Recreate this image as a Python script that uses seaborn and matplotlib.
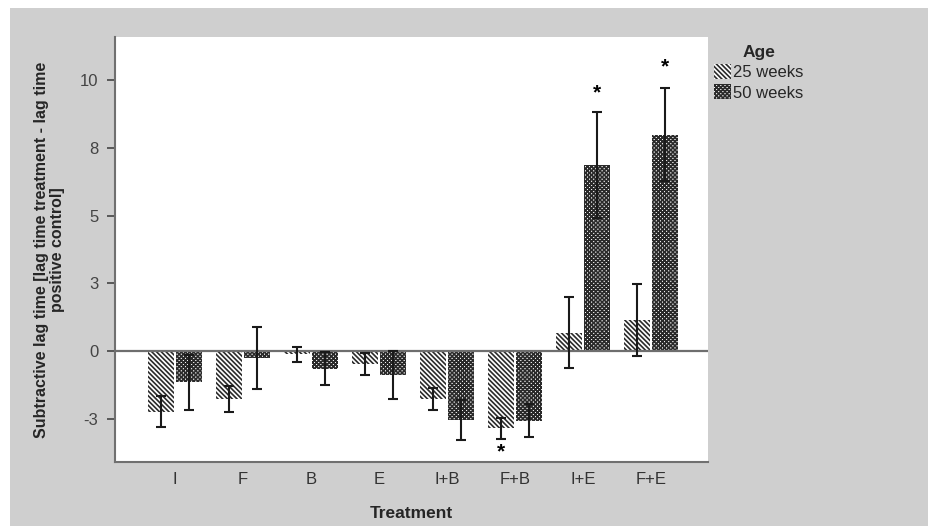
import matplotlib
matplotlib.use("Agg")
import matplotlib.pyplot as plt
import matplotlib.patches as mpatches
import seaborn as sns
import pandas as pd
import numpy as np

treatments = ["I", "F", "B", "E", "I+B", "F+B", "I+E", "F+E"]
ages = ["25 weeks", "50 weeks"]
mean_25 = [-2.22, -1.77, -0.11, -0.46, -1.75, -2.84, 0.69, 1.15]
mean_50 = [-1.15, -0.25, -0.64, -0.87, -2.52, -2.56, 6.86, 7.98]
err_25 = [0.56, 0.48, 0.27, 0.41, 0.40, 0.39, 1.32, 1.33]
err_50 = [1.02, 1.13, 0.60, 0.89, 0.74, 0.60, 1.95, 1.72]
star_treat = ["F+B", "I+E", "F+E"]
star_age = ["25 weeks", "50 weeks", "50 weeks"]
star_y = [-3.72, 9.51, 10.47]
ytick_vals = [-2.5, 0, 2.5, 5, 7.5, 10]
ytick_labels = ["-3", "0", "3", "5", "8", "10"]

df = pd.DataFrame({
    "Treatment": treatments * 2,
    "Age": [ages[0]] * len(treatments) + [ages[1]] * len(treatments),
    "value": mean_25 + mean_50,
    "err": err_25 + err_50,
})

sns.set_style("white")
plt.rcParams["font.family"] = ["Liberation Sans", "DejaVu Sans"]
plt.rcParams["hatch.linewidth"] = 1.2

W, H = 929, 526
fig = plt.figure(figsize=(W / 100, H / 100), dpi=100)
fig.patch.set_facecolor("white")
fig.patches.append(mpatches.Rectangle((10 / W, 0), 1, (H - 8) / H, transform=fig.transFigure,
                                      facecolor="#cfcfcf", edgecolor="none", zorder=-10))

ax = fig.add_axes([115 / W, (H - 462) / H, (708 - 115) / W, (462 - 37) / H])
ax.set_facecolor("white")

sns.barplot(data=df, x="Treatment", y="value", hue="Age", order=treatments, hue_order=ages,
            errorbar=None, width=0.82, gap=0.08, ax=ax, legend=False,
            palette=["white", "white"], edgecolor="#222222", linewidth=0)

hatches = {"25 weeks": "\\" * 7, "50 weeks": "x" * 8}
containers = ax.containers
for cont, age in zip(containers, ages):
    for bar in cont:
        bar.set_hatch(hatches[age])
        bar.set_edgecolor("#2a2a2a")
        bar.set_linewidth(0)

# error bars at the seaborn bar centers
for cont, age in zip(containers, ages):
    sub = df[df["Age"] == age].set_index("Treatment").loc[treatments]
    xs = [b.get_x() + b.get_width() / 2 for b in cont]
    ax.errorbar(xs, sub["value"].values, yerr=sub["err"].values, fmt="none",
                ecolor="#1a1a1a", elinewidth=1.5, capsize=3.5, capthick=1.5, zorder=5)

# significance stars
for t, a, yv in zip(star_treat, star_age, star_y):
    cont = containers[ages.index(a)]
    b = cont[treatments.index(t)]
    ax.text(b.get_x() + b.get_width() / 2, yv, "*", ha="center", va="center",
            fontsize=15, fontweight="bold", color="black")

ax.axhline(0, color="#6e6e6e", linewidth=1.6, zorder=4)

ax.set_xlim(-0.88, 7.84)
ax.set_ylim(-4.08, 11.58)
ax.set_yticks(ytick_vals)
ax.set_yticklabels(ytick_labels)
ax.tick_params(axis="y", length=6, width=1.2, color="#444444", labelsize=12,
               labelcolor="#444444", left=True, pad=6)
ax.tick_params(axis="x", length=0, labelsize=12, labelcolor="#333333", pad=7)

for s in ["top", "right"]:
    ax.spines[s].set_visible(False)
for s in ["left", "bottom"]:
    ax.spines[s].set_color("#707070")
    ax.spines[s].set_linewidth(1.5)

ax.set_xlabel("Treatment", fontsize=12.5, fontweight="bold", labelpad=14)
ax.set_ylabel("Subtractive lag time [lag time treatment - lag time\npositive control]",
              fontsize=11.5, fontweight="bold", labelpad=11, linespacing=1.05)

# legend
handles = [mpatches.Patch(facecolor="white", edgecolor="#2a2a2a", linewidth=0, hatch=hatches[a])
           for a in ages]
leg = fig.legend(handles, ages, title="Age", loc="upper left",
                 bbox_to_anchor=(704 / W, 1 - 35 / H), frameon=False,
                 fontsize=12, title_fontproperties={"weight": "bold", "size": 12.5},
                 handlelength=1.0, handleheight=1.0, handletextpad=0.15,
                 labelspacing=0.25, borderaxespad=0.3, borderpad=0.3)
leg._legend_box.align = "center"

fig.savefig("out.png", dpi=100)
